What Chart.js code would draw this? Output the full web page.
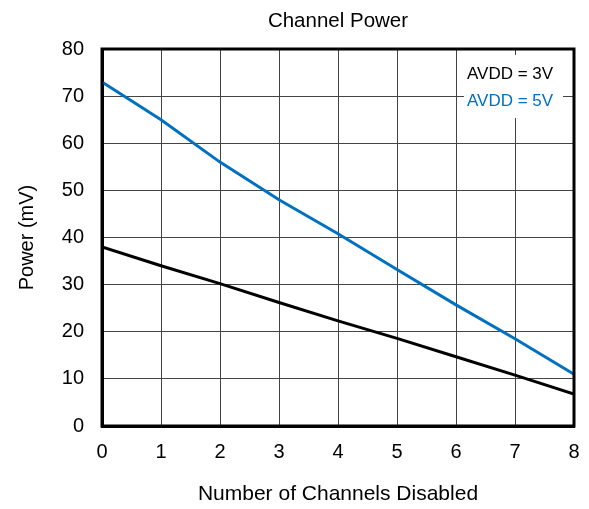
<!DOCTYPE html>
<html>
<head>
<meta charset="utf-8">
<script src="https://cdn.jsdelivr.net/npm/chart.js@4"></script>
<style>
  html, body { margin: 0; padding: 0; background: #fff; }
  #wrap { width: 589px; height: 509px; }
</style>
</head>
<body>
<div id="wrap"><canvas id="powerChart" width="589" height="509"></canvas></div>
<script>
const channels = [0, 1, 2, 3, 4, 5, 6, 7, 8];
const avdd3 = [38, 34, 30.2, 26.2, 22.3, 18.6, 14.7, 10.8, 6.8];
const avdd5 = [73, 65, 56, 48, 40.8, 33.2, 25.7, 18.5, 11];
const yTicks = [0, 10, 20, 30, 40, 50, 60, 70, 80];

const seriesLabels = ['AVDD = 3V', 'AVDD = 5V'];
const seriesColors = ['#000000', '#0070c0'];
const chartTitle = 'Channel Power';
const FONT = 'Arial, "Liberation Sans", sans-serif';

// title over the plot, box around the plot, and legend inside top right
const extras = {
    id: 'extras',
    afterDatasetsDraw(chart) {
        const ctx = chart.ctx;
        const a = chart.chartArea;
        ctx.save();
        ctx.strokeStyle = '#000';
        ctx.lineWidth = 3;
        ctx.strokeRect(a.left, a.top, a.right - a.left, a.bottom - a.top);

        ctx.fillStyle = '#fff';
        ctx.fillRect(a.right - 110, a.top + 6, 99, 63);
        ctx.font = '17px ' + FONT;
        ctx.textBaseline = 'middle';
        ctx.textAlign = 'left';
        seriesLabels.forEach(function(lbl, i) {
            ctx.fillStyle = seriesColors[i];
            ctx.fillText(lbl, a.right - 107, a.top + 25 + i * 27);
        });

        ctx.fillStyle = '#000';
        ctx.font = '20.5px ' + FONT;
        ctx.textAlign = 'center';
        ctx.textBaseline = 'alphabetic';
        ctx.fillText(chartTitle, (a.left + a.right) / 2, 27);
        ctx.restore();
    }
};

Chart.defaults.font.family = FONT;
Chart.defaults.color = '#000';

new Chart(document.getElementById('powerChart').getContext('2d'), {
    type: 'line',
    data: {
        datasets: [
            {
                label: seriesLabels[0],
                data: channels.map((c, i) => ({ x: c, y: avdd3[i] })),
                borderColor: seriesColors[0],
                borderWidth: 3,
                pointRadius: 0,
                tension: 0
            },
            {
                label: seriesLabels[1],
                data: channels.map((c, i) => ({ x: c, y: avdd5[i] })),
                borderColor: seriesColors[1],
                borderWidth: 3,
                pointRadius: 0,
                tension: 0
            }
        ]
    },
    options: {
        responsive: false,
        animation: false,
        layout: { padding: { left: 5, right: 15, top: 49, bottom: 0 } },
        plugins: {
            legend: { display: false },
            tooltip: { enabled: false },
            title: { display: false }
        },
        scales: {
            x: {
                type: 'linear',
                min: 0,
                max: 8,
                afterBuildTicks(axis) { axis.ticks = channels.map(v => ({ value: v })); },
                afterFit(axis) {
                    axis.height = 83;
                    axis.paddingRight = 0;
                    axis.paddingLeft = 0;
                },
                grid: { color: '#444', lineWidth: 1, drawTicks: false },
                border: { color: '#000', width: 3 },
                ticks: { font: { size: 20 }, color: '#000', padding: 14, maxRotation: 0 },
                title: {
                    display: true,
                    text: 'Number of Channels Disabled',
                    font: { size: 21 },
                    color: '#000',
                    padding: { top: 0, bottom: 2 }
                }
            },
            y: {
                min: 0,
                max: 80,
                afterBuildTicks(axis) { axis.ticks = yTicks.map(v => ({ value: v })); },
                afterFit(axis) { axis.width = 97; },
                grid: { color: '#444', lineWidth: 1, drawTicks: false },
                border: { color: '#000', width: 3 },
                ticks: { font: { size: 20 }, color: '#000', padding: 18 },
                title: {
                    display: true,
                    text: 'Power (mV)',
                    font: { size: 20 },
                    color: '#000',
                    padding: { top: 10, bottom: 0 }
                }
            }
        }
    },
    plugins: [extras]
});
</script>
</body>
</html>
